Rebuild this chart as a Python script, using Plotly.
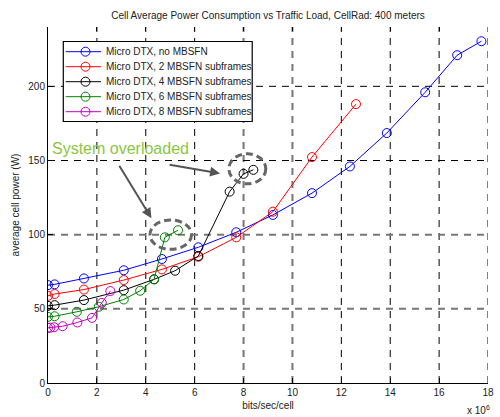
import plotly.graph_objects as go

# ---- data (x in units of 1e6 bits/sec/cell, y in W) ----
names = ["Micro DTX, no MBSFN", "Micro DTX, 2 MBSFN subframes",
         "Micro DTX, 4 MBSFN subframes", "Micro DTX, 6 MBSFN subframes",
         "Micro DTX, 8 MBSFN subframes"]

x_no = [0.0, 0.27, 1.47, 3.1, 4.66, 6.15, 7.7, 9.2, 10.8, 12.35, 13.86, 15.43, 16.74, 17.73]
y_no = [66, 66.5, 70.5, 76, 83.6, 91.5, 101.6, 113.3, 128, 146, 168.5, 196, 221, 230.4]

x_2 = [0.0, 0.27, 1.47, 3.1, 4.66, 6.15, 7.7, 9.2, 10.8, 12.6]
y_2 = [58.8, 60, 63, 69.4, 76.6, 85.1, 98.2, 115.5, 152.3, 188]

x_4 = [0.0, 0.27, 1.47, 3.1, 4.34, 5.2, 6.15, 7.43, 8.0, 8.4]
y_4 = [52, 52.5, 55.9, 62.6, 69.9, 75.7, 85.6, 129, 141, 143.7]

x_6 = [0.0, 0.27, 1.18, 2.08, 3.1, 3.77, 4.34, 4.78, 5.32]
y_6 = [44.6, 45, 48, 51.4, 56.3, 62.2, 69.9, 98.2, 103]

x_8 = [0.0, 0.1, 0.25, 0.6, 1.2, 1.8, 2.2, 2.55]
y_8 = [37.2, 37.3, 37.6, 38.3, 40.8, 43.9, 54, 62]

colors = ["#0000ff", "#ff0000", "#000000", "#008000", "#bf00bf"]
xticks = [0, 2, 4, 6, 8, 10, 12, 14, 16, 18]
yticks = [0, 50, 100, 150, 200]
gray_x = [8, 10]      # grid lines that appear gray in the reference
gray_y = [50, 100]

FONT = "Liberation Sans, Arial, Helvetica, sans-serif"
W, H = 500, 417
ML, MR, MT, MB = 48, 6, 27, 34
PW, PH = W - ML - MR, H - MT - MB


def px2paper_x(px):
    return (px - ML) / PW


def px2paper_y(py):
    return (H - MB - py) / PH


fig = go.Figure()
for nm, xs, ys, c in zip(names, [x_no, x_2, x_4, x_6, x_8],
                         [y_no, y_2, y_4, y_6, y_8], colors):
    fig.add_trace(go.Scatter(x=xs, y=ys, name=nm, mode="lines+markers",
                             line=dict(color=c, width=1), showlegend=False,
                             marker=dict(symbol="circle-open", size=9,
                                         color=c, line=dict(width=1, color=c))))

# dummy trace so the top tick axis is drawn
fig.add_trace(go.Scatter(x=[], y=[], xaxis="x2", showlegend=False, hoverinfo="skip"))

grid_dash = "7px,6px"
fig.update_layout(
    width=W, height=H,
    margin=dict(l=ML, r=MR, t=MT, b=MB),
    paper_bgcolor="white", plot_bgcolor="white",
    font=dict(family=FONT, size=10, color="#222"),
    title=dict(text="Cell Average Power Consumption vs Traffic Load, CellRad: 400 meters",
               x=0.5, xref="paper", y=1 - 15 / H, yanchor="middle",
               font=dict(size=10, family=FONT, color="#222")),
    xaxis=dict(range=[0, 18], tickvals=xticks, ticktext=[str(v) for v in xticks],
               ticks="inside", ticklen=5, tickcolor="black",
               showline=True, linecolor="black", linewidth=1,
               showgrid=False, zeroline=False,
               title=dict(text="bits/sec/cell", standoff=4, font=dict(size=10))),
    xaxis2=dict(range=[0, 18], overlaying="x", side="top", tickvals=xticks,
                ticks="inside", ticklen=4, tickcolor="black",
                showticklabels=False, showline=False, showgrid=False, zeroline=False),
    yaxis=dict(range=[0, 240], tickvals=yticks, ticktext=[str(v) for v in yticks],
               ticks="inside", ticklen=5, tickcolor="black",
               showline=True, linecolor="black", linewidth=1,
               showgrid=False, zeroline=False,
               title=dict(text="average cell power (W)", standoff=6, font=dict(size=10))),
    showlegend=False,
)

# dashed grid lines (black, a few in gray)
for xv in xticks[1:]:
    g = xv in gray_x
    fig.add_shape(type="line", xref="x", yref="paper", x0=xv, x1=xv, y0=0, y1=1,
                  line=dict(color="#777777" if g else "black", width=2 if g else 1,
                            dash=grid_dash), layer="below")
for yv in yticks[1:]:
    g = yv in gray_y
    fig.add_shape(type="line", xref="paper", yref="y", x0=0, x1=1, y0=yv, y1=yv,
                  line=dict(color="#777777" if g else "black", width=2 if g else 1,
                            dash=grid_dash), layer="below")

# overload ellipses
fig.add_shape(type="circle", xref="x", yref="y", x0=4.17, x1=5.87, y0=90.1, y1=109.9,
              line=dict(color="#666666", width=3, dash="7px,4px"))
fig.add_shape(type="circle", xref="x", yref="y", x0=7.40, x1=8.91, y0=134.3, y1=154.5,
              line=dict(color="#666666", width=3, dash="7px,4px"))

fig.add_annotation(text="System overloaded", x=2.98, y=158.4, xref="x", yref="y",
                   showarrow=False, font=dict(size=16, color="#8cc63f", family=FONT))
fig.add_annotation(text="", x=4.23, y=111.1, xref="x", yref="y", ax=-33, ay=-54,
                   showarrow=True, arrowhead=2, arrowsize=1, arrowwidth=2,
                   arrowcolor="#555555", standoff=0)
fig.add_annotation(text="", x=7.04, y=141.3, xref="x", yref="y", ax=-52, ay=-9,
                   showarrow=True, arrowhead=2, arrowsize=1, arrowwidth=2,
                   arrowcolor="#555555", standoff=0)
fig.add_annotation(text="x 10<sup>6</sup>", x=1, y=0, xref="paper", yref="paper",
                   xanchor="right", yanchor="middle", xshift=4, yshift=-27,
                   showarrow=False, font=dict(size=10, family=FONT, color="#222"))

# ---- compact legend (MATLAB style) ----
LX0, LX1, LY0, LY1 = 63.5, 255, 41.5, 121.5
fig.add_shape(type="rect", xref="paper", yref="paper",
              x0=px2paper_x(LX0), x1=px2paper_x(LX1),
              y0=px2paper_y(LY1), y1=px2paper_y(LY0),
              line=dict(color="black", width=1.2), fillcolor="white", layer="above")
for i, (nm, c) in enumerate(zip(names, colors)):
    ry = 51.7 + 15 * i
    fig.add_shape(type="line", xref="paper", yref="paper",
                  x0=px2paper_x(66), x1=px2paper_x(101.7),
                  y0=px2paper_y(ry), y1=px2paper_y(ry),
                  line=dict(color=c, width=1), layer="above")
    fig.add_shape(type="circle", xref="paper", yref="paper",
                  xsizemode="pixel", ysizemode="pixel",
                  xanchor=px2paper_x(86), yanchor=px2paper_y(ry),
                  x0=-4.5, x1=4.5, y0=-4.5, y1=4.5,
                  line=dict(color=c, width=1), layer="above")
    fig.add_annotation(text=nm, xref="paper", yref="paper",
                       x=px2paper_x(104.5), y=px2paper_y(ry),
                       xanchor="left", yanchor="middle", showarrow=False,
                       font=dict(size=10, family=FONT, color="#222"))

fig.write_html("out.html")
